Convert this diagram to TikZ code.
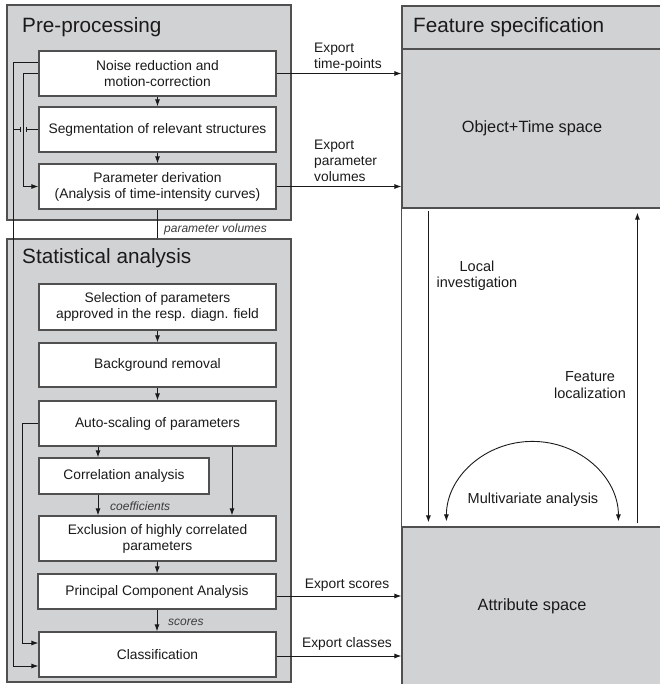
\documentclass[tikz,border=0pt]{standalone}
\usepackage{fontspec}
\setmainfont{Liberation Sans}
\usetikzlibrary{arrows.meta}
\definecolor{panel}{HTML}{D1D2D4}
\definecolor{edge}{HTML}{505050}
\definecolor{ink}{HTML}{1A1A1A}
\tikzset{
  body/.style={font=\fontsize{13.8}{16}\selectfont, text=ink},
  bigbody/.style={font=\fontsize{16.3}{19}\selectfont, text=ink},
  sidebody/.style={font=\fontsize{14.5}{16.5}\selectfont, text=ink},
  panelbox/.style={draw=edge, fill=panel, line width=1.2pt, inner sep=0pt},
  stepbox/.style={draw=edge, fill=white, line width=1.2pt, inner sep=0pt, align=center, body},
  conn/.style={draw=ink, line width=0.9pt},
  tip/.style={},
  arr/.style={conn, -{Latex[length=7pt,width=5pt]}},
  title/.style={font=\fontsize{20.7}{24}\selectfont, text=ink, anchor=base west, inner sep=0pt},
  lab/.style={font=\itshape\fontsize{12}{14}\selectfont, text=ink!85, inner sep=0pt},
  explab/.style={body, inner sep=0pt, align=left},
}
\begin{document}
\begin{tikzpicture}[x=1pt,y=-1pt]
\useasboundingbox (0,0) rectangle (659,684);
% left panels
\node[panelbox, minimum width=284pt, minimum height=215pt] (pre) at (149,112.5) {};
\node[panelbox, minimum width=284pt, minimum height=443pt] (stat) at (149,460.5) {};
\node[title] (pretitle) at (22,33) {Pre-processing};
\node[title] (stattitle) at (22,263) {Statistical analysis};
% right panels
\node[panelbox, minimum width=264pt, minimum height=43pt] (fhead) at (534,27.5) {};
\node[title] (ftitle) at (413,33) {Feature specification};
\node[panelbox, minimum width=264pt, minimum height=159pt] (objtime) at (534,128.5) {};
\node[bigbody, inner sep=0pt] (objtext) at (532,128.5) {Object+Time space};
\node[panelbox, minimum width=264pt, minimum height=162pt] (attr) at (534,608) {};
\node[bigbody, inner sep=0pt] (attrtext) at (532,606) {Attribute space};
\draw[draw=edge, line width=1.2pt] (objtime.south west) -- (attr.north west);
% step boxes
\node[stepbox, minimum width=237pt, minimum height=45pt] (noise) at (157.5,73.5) {Noise reduction and\\motion-correction};
\node[stepbox, minimum width=237pt, minimum height=45pt] (seg) at (157.5,129.5) {Segmentation of relevant structures};
\node[stepbox, minimum width=237pt, minimum height=45pt] (param) at (157.5,186.5) {Parameter derivation\\(Analysis of time-intensity curves)};
\node[stepbox, minimum width=237pt, minimum height=46pt] (sel) at (157.5,307) {Selection of parameters\\approved in the resp. diagn. field};
\node[stepbox, minimum width=237pt, minimum height=44pt] (bg) at (157.5,365) {Background removal};
\node[stepbox, minimum width=237pt, minimum height=45pt] (auto) at (157.5,423.5) {Auto-scaling of parameters};
\node[stepbox, minimum width=170pt, minimum height=36pt] (corr) at (124,476) {Correlation analysis};
\node[stepbox, minimum width=237pt, minimum height=45pt] (excl) at (157.5,538.5) {Exclusion of highly correlated\\parameters};
\node[stepbox, minimum width=238pt, minimum height=35pt] (pca) at (157,591.5) {Principal Component Analysis};
\node[stepbox, minimum width=237pt, minimum height=45pt] (class) at (157.5,654.5) {Classification};
% main flow
\draw[arr] (noise.south) -- (seg.north);
\draw[arr] (seg.south) -- (param.north);
\draw[conn] (param.south) -- (param.south |- stat.north);
\node[lab, anchor=west] (pvlab) at (164,229) {parameter volumes};
\draw[arr] (sel.south) -- (bg.north);
\draw[arr] (bg.south) -- (auto.north);
\draw[arr] ([xshift=-59.5pt]auto.south) -- ([xshift=-59.5pt]auto.south |- corr.north);
\draw[arr] ([xshift=74.5pt]auto.south) -- ([xshift=74.5pt]auto.south |- excl.north);
\draw[arr] ([xshift=-26pt]corr.south) -- ([xshift=-26pt]corr.south |- excl.north);
\node[lab, anchor=west] (coeflab) at (110,506) {coefficients};
\draw[arr] (excl.south) -- (pca.north);
\draw[arr] (pca.south) -- (pca.south |- class.north);
\node[lab, anchor=west] (sclab) at (168,622) {scores};
% feedback lines
\draw[arr] ([yshift=11.5pt]noise.west) -- ++(-25,0) |- ([yshift=-11.5pt]class.west);
\draw[arr] (noise.west) -- ++(-15,0) |- (param.west);
\draw[conn] (seg.west) -- ++(-12,0) ++(0,-2.5) -- ++(0,5);
\draw[conn] (seg.west) ++(-18,-2.5) -- ++(0,5) ++(0,-2.5) -- ++(-7,0);
\draw[arr] (auto.west) -- ++(-16,0) |- ([yshift=11.5pt]class.west);
% exports
\draw[arr] (noise.east) -- (noise.east -| objtime.west);
\node[explab, anchor=west] (exp1) at (314,57) {Export\\time-points};
\draw[arr] (param.east) -- (param.east -| objtime.west);
\node[explab, anchor=west] (exp2) at (314,160.5) {Export\\parameter\\volumes};
\draw[arr] ([yshift=-4.5pt]pca.east) -- ([yshift=-4.5pt]pca.east -| attr.west);
\node[body, inner sep=0pt] (exp3) at (347,585) {Export scores};
\draw[arr] ([yshift=-1.5pt]class.east) -- ([yshift=-1.5pt]class.east -| attr.west);
\node[body, inner sep=0pt] (exp4) at (347,644) {Export classes};
% right side arrows
\draw[arr, shorten >=4pt] ([xshift=27pt,yshift=-2pt]objtime.south west) -- ([xshift=27pt]attr.north west);
\node[sidebody, align=center, inner sep=0pt] (loclab) at (477,276) {Local\\investigation};
\draw[arr, shorten >=4pt] ([xshift=236pt,yshift=3pt]attr.north west) -- ([xshift=236pt]objtime.south west);
\node[sidebody, align=center, inner sep=0pt] (flab) at (590,385) {Feature\\localization};
\draw[conn, {Latex[length=7pt,width=5pt]}-{Latex[length=7pt,width=5pt]}] ([xshift=45pt,yshift=5pt]attr.north west) arc[start angle=180, end angle=0, x radius=86pt, y radius=80pt];
\node[sidebody, inner sep=0pt] (mvlab) at (533,500) {Multivariate analysis};
\end{tikzpicture}
\end{document}
